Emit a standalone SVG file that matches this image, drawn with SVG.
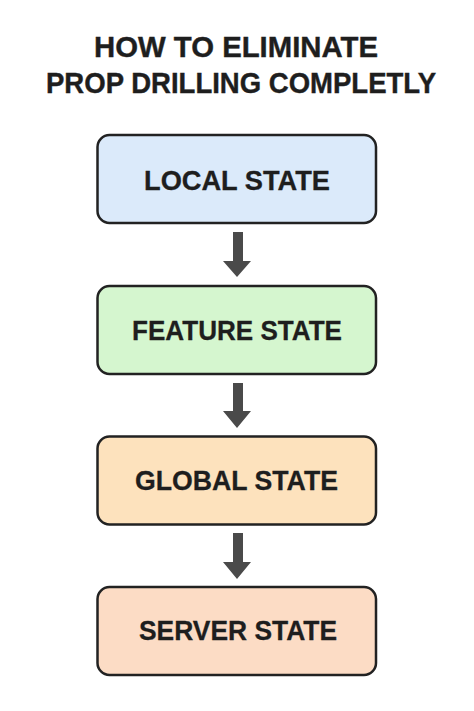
<svg xmlns="http://www.w3.org/2000/svg" width="474" height="711" viewBox="0 0 474 711">
<style>
.title{font-family:"Liberation Sans",Arial,sans-serif;font-weight:bold;font-size:30px;fill:#1e1e1e;stroke:#1e1e1e;stroke-width:0.4;text-anchor:middle}
.box{stroke:#222;stroke-width:2.5}
.lbl{font-family:"Liberation Sans",Arial,sans-serif;font-weight:bold;font-size:27.5px;fill:#1e1e1e;stroke:#1e1e1e;stroke-width:0.3;text-anchor:middle}
.arrow{fill:#4a4a4a}
</style>
<rect width="474" height="711" fill="#ffffff"/>
<g id="title">
<text class="title" x="236" y="57" textLength="284" lengthAdjust="spacingAndGlyphs">HOW TO ELIMINATE</text>
<text class="title" x="241" y="93" textLength="390" lengthAdjust="spacingAndGlyphs">PROP DRILLING COMPLETLY</text>
</g>
<g id="node-local">
<rect class="box" x="97.5" y="135" width="278.5" height="88" rx="12" fill="#dbeafa"/>
<text class="lbl" x="237" y="190" textLength="186" lengthAdjust="spacingAndGlyphs">LOCAL STATE</text>
</g>
<g id="node-feature">
<rect class="box" x="97.5" y="286" width="278.5" height="88" rx="12" fill="#d5f6cf"/>
<text class="lbl" x="237" y="340" textLength="210" lengthAdjust="spacingAndGlyphs">FEATURE STATE</text>
</g>
<g id="node-global">
<rect class="box" x="97.5" y="436.5" width="278.5" height="88" rx="12" fill="#fde2bd"/>
<text class="lbl" x="236.5" y="490" textLength="203" lengthAdjust="spacingAndGlyphs">GLOBAL STATE</text>
</g>
<g id="node-server">
<rect class="box" x="97.5" y="587" width="278.5" height="88" rx="12" fill="#fcdcc5"/>
<text class="lbl" x="238" y="640" textLength="198" lengthAdjust="spacingAndGlyphs">SERVER STATE</text>
</g>
<g id="connectors">
<path class="arrow" d="M233 232 H243 V261 H251 L237 277 L223 261 H233 Z"/>
<path class="arrow" d="M233 383 H243 V411 H251 L237 428 L223 411 H233 Z"/>
<path class="arrow" d="M233 533 H243 V562 H251 L237 579 L223 562 H233 Z"/>
</g>
</svg>
